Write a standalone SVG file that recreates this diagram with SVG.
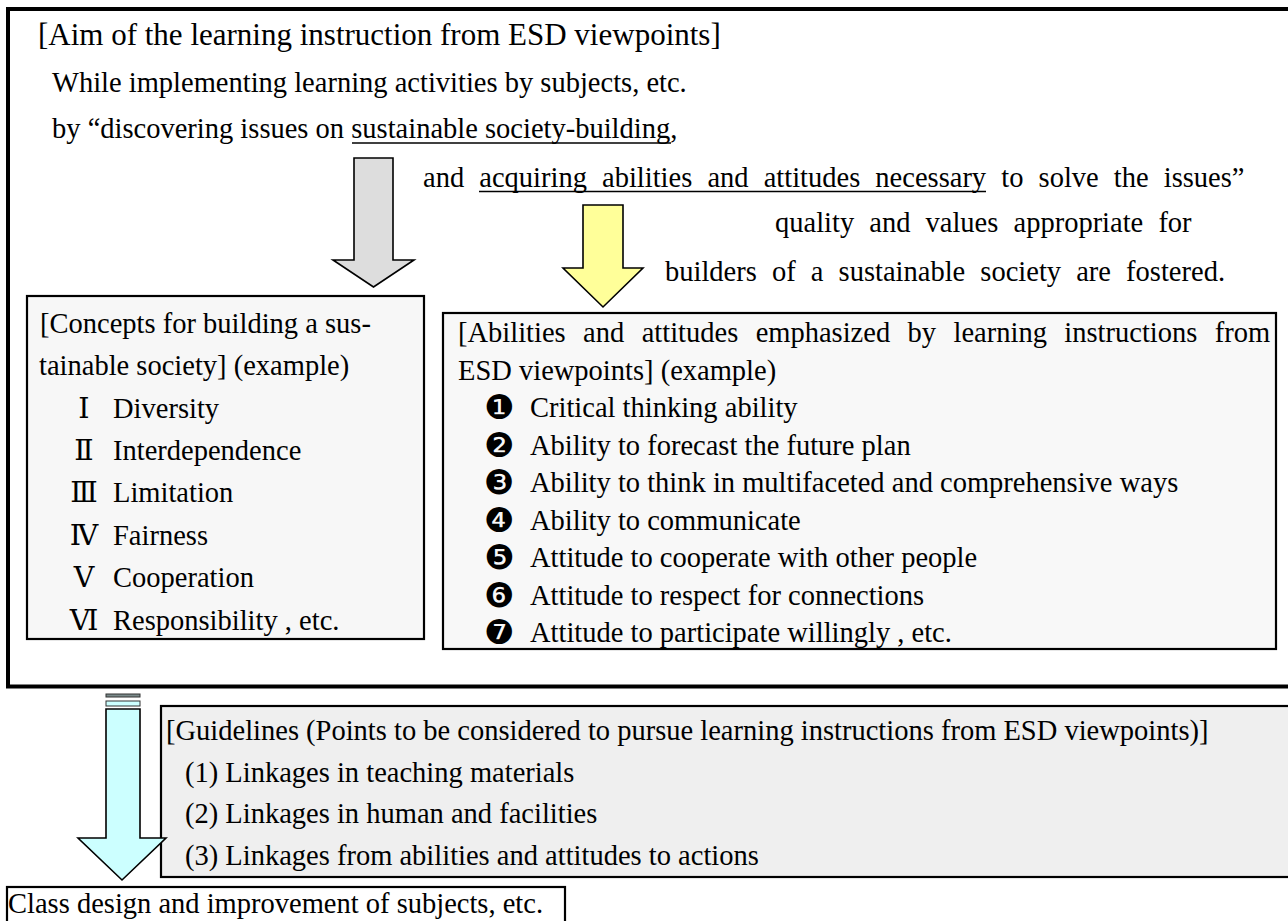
<svg xmlns="http://www.w3.org/2000/svg" width="1288" height="921" viewBox="0 0 1288 921">
<style>
.t{font-family:"Liberation Serif","Times New Roman",serif;font-size:28.5px;fill:#000}
.title{font-size:31px}
.ws{word-spacing:8px}
.num{font-family:"Liberation Serif","DejaVu Serif","Noto Sans CJK JP",serif;font-size:28.5px;text-anchor:middle}
.dot{font-family:"DejaVu Sans","Noto Sans CJK JP",sans-serif;font-size:34px}
.box{stroke:#000;stroke-width:2.2}
.arrow{stroke:#000;stroke-width:1.6;stroke-linejoin:miter}
.ul{stroke:#000;stroke-width:1.6}
</style>
<rect width="1288" height="921" fill="#fff"/>

<g id="aim">
<rect x="8" y="9" width="1300" height="677.5" fill="#fff" stroke="#000" stroke-width="4"/>
<text class="t title" x="38" y="45">[Aim of the learning instruction from ESD viewpoints]</text>
<text class="t" x="52" y="92">While implementing learning activities by subjects, etc.</text>
<text class="t" x="52" y="138">by “discovering issues on sustainable society-building,</text>
<line class="ul" x1="352" y1="143" x2="671" y2="143"/>
<text class="t ws" x="423" y="187">and acquiring abilities and attitudes necessary to solve the issues”</text>
<line class="ul" x1="479" y1="191.5" x2="986" y2="191.5"/>
<text class="t ws" x="775" y="232">quality and values appropriate for</text>
<text class="t ws" x="665" y="281">builders of a sustainable society are fostered.</text>
</g>

<g id="concepts">
<rect class="box" x="27" y="296" width="397" height="343" fill="#f7f7f7"/>
<text class="t" x="40" y="333">[Concepts for building a sus-</text>
<text class="t" x="39" y="375">tainable society] (example)</text>
<text class="num" x="84" y="418">Ⅰ</text><text class="t" x="113" y="418">Diversity</text>
<text class="num" x="84" y="460">Ⅱ</text><text class="t" x="113" y="460">Interdependence</text>
<text class="num" x="84" y="502">Ⅲ</text><text class="t" x="113" y="502">Limitation</text>
<text class="num" x="84" y="545">Ⅳ</text><text class="t" x="113" y="545">Fairness</text>
<text class="num" x="84" y="587">Ⅴ</text><text class="t" x="113" y="587">Cooperation</text>
<text class="num" x="84" y="630">Ⅵ</text><text class="t" x="113" y="630">Responsibility , etc.</text>
</g>

<g id="abilities">
<rect class="box" x="443" y="313" width="833" height="336" fill="#f8f8f8"/>
<text class="t" x="458" y="342" style="word-spacing:10.3px">[Abilities and attitudes emphasized by learning instructions from</text>
<text class="t" x="458" y="379.5">ESD viewpoints] (example)</text>
<text class="dot" x="484" y="419">❶</text><text class="t" x="530" y="417">Critical thinking ability</text>
<text class="dot" x="484" y="456.5">❷</text><text class="t" x="530" y="454.5">Ability to forecast the future plan</text>
<text class="dot" x="484" y="494">❸</text><text class="t" x="530" y="492">Ability to think in multifaceted and comprehensive ways</text>
<text class="dot" x="484" y="531.5">❹</text><text class="t" x="530" y="529.5">Ability to communicate</text>
<text class="dot" x="484" y="569">❺</text><text class="t" x="530" y="567">Attitude to cooperate with other people</text>
<text class="dot" x="484" y="606.5">❻</text><text class="t" x="530" y="604.5">Attitude to respect for connections</text>
<text class="dot" x="484" y="644">❼</text><text class="t" x="530" y="642">Attitude to participate willingly , etc.</text>
</g>

<g id="guidelines">
<rect class="box" x="161" y="706" width="1140" height="171" fill="#efefef" stroke-width="2.5"/>
<text class="t" x="166" y="740">[Guidelines (Points to be considered to pursue learning instructions from ESD viewpoints)]</text>
<text class="t" x="185" y="782">(1) Linkages in teaching materials</text>
<text class="t" x="185" y="823">(2) Linkages in human and facilities</text>
<text class="t" x="185" y="865">(3) Linkages from abilities and attitudes to actions</text>
</g>

<g id="classdesign">
<rect class="box" x="7" y="887" width="558" height="50" fill="#fff"/>
<text class="t" x="8" y="913">Class design and improvement of subjects, etc.</text>
</g>

<g id="connectors">
<polygon class="arrow" fill="#dddddd" points="354,158 393,158 393,260 414,260 373.5,287 333,260 354,260"/>
<polygon class="arrow" fill="#ffff99" points="583,205 623,205 623,268 643,268 603,307 563,268 583,268"/>
<rect x="106" y="694" width="34" height="3" fill="#7a8a8a" stroke="#333" stroke-width="1"/>
<rect x="106" y="701" width="34" height="5" fill="#ccffff" stroke="#333" stroke-width="1"/>
<polygon class="arrow" fill="#ccffff" points="106,709 140,709 140,838 166,838 122,880 78,838 106,838" stroke-width="1.4"/>
</g>
</svg>
